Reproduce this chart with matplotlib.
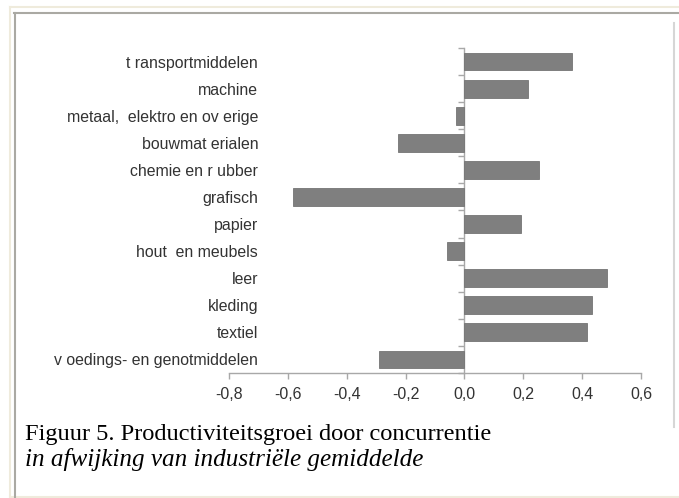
import numpy as np
import matplotlib
matplotlib.use("Agg")
import matplotlib.pyplot as plt
from matplotlib.lines import Line2D

# data, bottom to top as in the chart
categories = ["v oedings- en genotmiddelen", "textiel", "kleding", "leer",
              "hout  en meubels", "papier", "grafisch", "chemie en r ubber",
              "bouwmat erialen", "metaal,  elektro en ov erige", "machine",
              "t ransportmiddelen"]
values = [-0.290, 0.417, 0.434, 0.483, -0.058, 0.193, -0.583, 0.252,
          -0.226, -0.027, 0.215, 0.366]
xticks = [-0.8, -0.6, -0.4, -0.2, 0.0, 0.2, 0.4, 0.6]

W, H = 679, 498
fig = plt.figure(figsize=(W / 100, H / 100), dpi=100)
fig.patch.set_facecolor("white")

ax = fig.add_axes([229 / W, 1 - 373 / H, (641 - 229) / W, (373 - 48) / H])
y = np.arange(len(categories))
ax.barh(y, values, height=0.66, color="#7f7f7f", edgecolor="#747474", linewidth=0.6, zorder=3)

ax.set_xlim(xticks[0], xticks[-1])
ax.set_ylim(-0.5, len(categories) - 0.5)
for s in ["top", "right", "left"]:
    ax.spines[s].set_visible(False)
ax.spines["bottom"].set_color("#a8a8a8")
ax.spines["bottom"].set_linewidth(1.0)

ax.set_xticks(xticks)
ax.set_xticklabels([f"{v:.1f}".replace(".", ",") for v in xticks])
ax.tick_params(axis="x", length=4, width=1, color="#a8a8a8", pad=6,
               labelsize=11.5, labelcolor="#333333")

ax.set_yticks(y)
ax.set_yticklabels(categories)
ax.tick_params(axis="y", length=0, pad=-21, labelsize=11.4, labelcolor="#333333")
for lab in ax.get_yticklabels() + ax.get_xticklabels():
    lab.set_fontfamily("Liberation Sans")

# zero axis with category boundary ticks
x0, x1 = ax.get_xlim()
zax = ax.secondary_yaxis((0 - x0) / (x1 - x0))
zax.set_yticks(np.arange(len(categories) + 1) - 0.5)
zax.set_yticklabels([])
zax.tick_params(axis="y", length=4, width=1, color="#a8a8a8", direction="in")
for s in ["left", "right"]:
    zax.spines[s].set_color("#a8a8a8")
    zax.spines[s].set_linewidth(1.0)

# caption
fig.text(25 / W, 1 - 440 / H, "Figuur 5. Productiviteitsgroei door concurrentie",
         family="Liberation Serif", fontsize=17.6, va="baseline", color="black")
fig.text(25 / W, 1 - 466 / H, "in afwijking van industriële gemiddelde",
         family="Liberation Serif", style="italic", fontsize=18.1, va="baseline", color="black")

# frame lines
def fline(xs, ys, color, lw):
    fig.add_artist(Line2D([v / W for v in xs], [1 - v / H for v in ys],
                          color=color, linewidth=lw, transform=fig.transFigure))

fline([10, 10], [7, 498], "#efebdc", 1.5)
fline([10, 679], [7.5, 7.5], "#efebdc", 1.5)
fline([10, 679], [497, 497], "#efebdc", 1.5)
fline([14.5, 14.5], [13, 498], "#aaa9a3", 1.5)
fline([14, 679], [13.5, 13.5], "#aaa9a3", 1.5)
fline([673.5, 673.5], [23, 427], "#d6d6d6", 1.5)

fig.savefig("out.png", dpi=100)
